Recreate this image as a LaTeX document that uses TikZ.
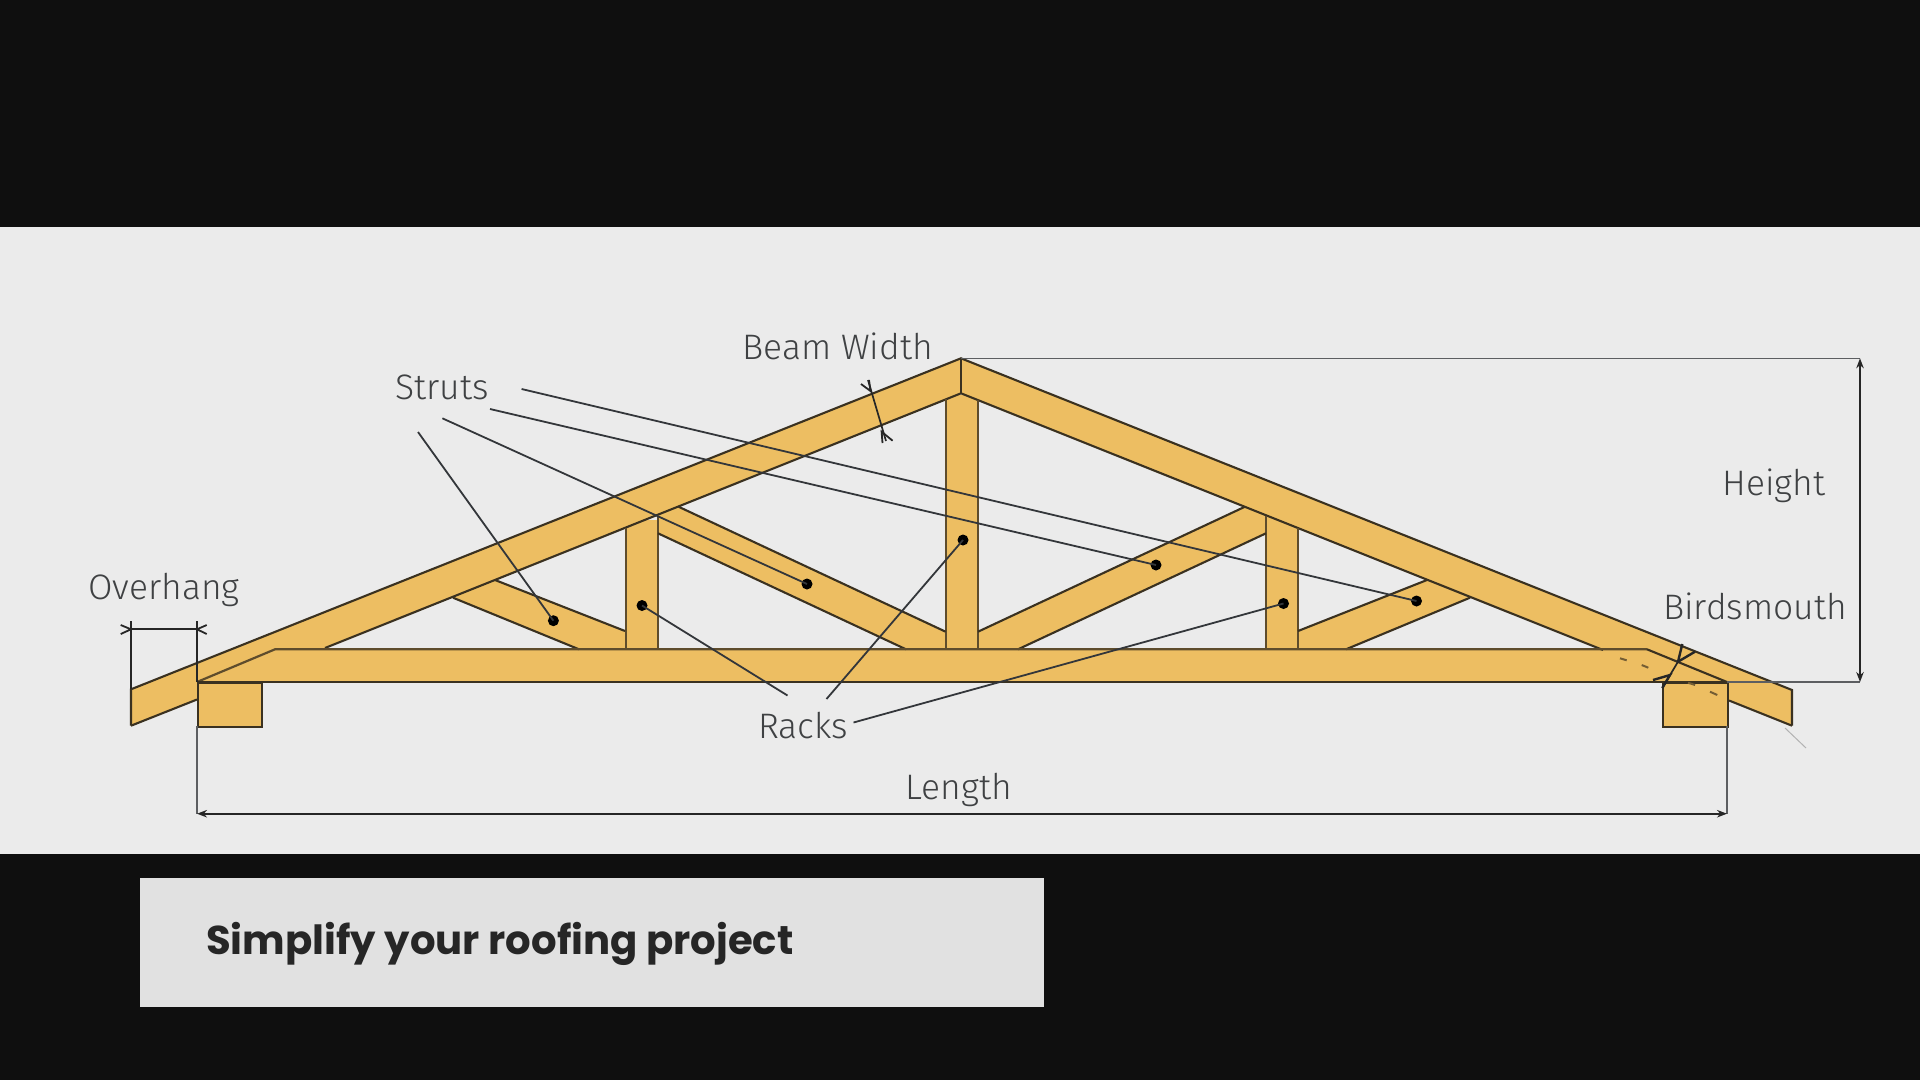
\documentclass[tikz,border=0pt]{standalone}
\usepackage{fontspec}
\usetikzlibrary{arrows.meta}
\setmainfont{Fira Sans Light}
\newfontfamily\titlefont{Poppins}
\definecolor{pageblack}{HTML}{0F0F0F}
\definecolor{panelgrey}{HTML}{EBEBEB}
\definecolor{capgrey}{HTML}{E1E1E1}
\definecolor{wood}{HTML}{EDBE62}
\definecolor{edge}{HTML}{3A3120}
\definecolor{postedge}{HTML}{5E4C2C}
\definecolor{leader}{HTML}{33363A}
\definecolor{labelgrey}{HTML}{3F4143}
\tikzset{
  woodfill/.style={fill=wood,draw=none},
  timber/.style={draw=edge,line width=2.1pt},
  posttimber/.style={draw=postedge,line width=2.2pt},
  hiddenbit/.style={draw=postedge!85!wood,line width=2pt},
  leaderline/.style={draw=leader,line width=1.8pt},
  thinline/.style={draw=leader!80!white,line width=1.2pt},
  dimline/.style={draw=black!85,line width=1.7pt},
  dimarrow/.style={draw=black!85,line width=1.7pt,{Stealth[length=10pt,width=7.5pt]}-{Stealth[length=10pt,width=7.5pt]}},
  chevron/.style={draw=black!85,line width=1.8pt},
  heavychevron/.style={draw=black!85,line width=2.4pt},
  dotmark/.style={circle,fill=black,inner sep=0pt,minimum size=11pt},
  lab/.style={font=\fontsize{35.4}{40}\selectfont,text=labelgrey,inner sep=0pt},
}
\begin{document}
\begin{tikzpicture}[x=1pt,y=-1pt]
\useasboundingbox (0,0) rectangle (1920,1080);
\fill[pageblack] (0,0) rectangle (1920,1080);
\fill[panelgrey] (0,226.5) rectangle (1920,853.5);
% caption
\node[fill=capgrey,draw=none,minimum width=904pt,minimum height=129pt,inner sep=0pt,anchor=north west] (caption) at (140,878) {};
\node[anchor=west,inner sep=0pt,font=\titlefont\bfseries\fontsize{40.2}{48}\selectfont,text=black!85] (captiontext) at (206,943.5) {Simplify your roofing project};
% named points
\coordinate (apex) at (961,358.3);
\coordinate (apexlow) at (961,393.3);
\coordinate (ltip) at (131,689.3);
\coordinate (lbot) at (131,725.7);
\coordinate (rtip) at (1792,690);
\coordinate (rbot) at (1792,725.7);
% wood fills
\fill[woodfill] (ltip) -- (apex) -- (apexlow) -- (lbot) -- cycle;
\fill[woodfill] (rtip) -- (apex) -- (apexlow) -- (rbot) -- cycle;
\fill[woodfill] (197,682) -- (275,649.3) -- (1647,649.3) -- (1727,682) -- cycle;
\fill[woodfill] (626,520) rectangle (658,650);
\fill[woodfill] (946,395) rectangle (978,650);
\fill[woodfill] (1266,510) rectangle (1298,650);
\fill[woodfill] (495,580) -- (626,631) -- (626,650) -- (579,649.3) -- (453,597.7) -- cycle;
\fill[woodfill] (658,514.5) -- (678.5,506.7) -- (946,631.7) -- (946,650) -- (906,649.3) -- (658,533.3) -- cycle;
\fill[woodfill] (1266,514.5) -- (1245,506.7) -- (978,631.7) -- (978,650) -- (1018,649.3) -- (1266,533.3) -- cycle;
\fill[woodfill] (1427,580) -- (1298,631) -- (1298,650) -- (1346,649.3) -- (1470,597.7) -- cycle;
% timber edges
\draw[timber] (lbot) -- (ltip) -- (apex) -- (rtip) -- (rbot);
\draw[timber] (apex) -- (apexlow);
\draw[timber] (lbot) -- (197,699.5);
\draw[timber] (325,648) -- (apexlow) -- (1603,650);
\draw[timber] (rbot) -- (1729,700.5);
% posts
\draw[posttimber] (626,528.3) -- (626,649.3);
\draw[posttimber] (658,516.7) -- (658,649.3);
\draw[posttimber] (946,399.3) -- (946,649.3);
\draw[posttimber] (978,400) -- (978,649.3);
\draw[posttimber] (1266,516) -- (1266,649.3);
\draw[posttimber] (1298,528) -- (1298,649.3);
% struts
\draw[timber] (495,580) -- (625,631);
\draw[timber] (453,597.7) -- (579,649.3);
\draw[timber] (678.5,506.7) -- (945.6,631.7);
\draw[timber] (658,533.3) -- (906,649.3);
\draw[timber] (1245,506.7) -- (978,631.7);
\draw[timber] (1266,533.3) -- (1018,649.3);
\draw[timber] (1427,580) -- (1298,631);
\draw[timber] (1470,597.7) -- (1346,649.3);
% chord
\draw[posttimber] (197,682) -- (275,649.3) -- (1647,649.3);
\draw[timber] (1647,649.3) -- (1727,682);
\draw[timber] (197,682) -- (1727,682);
% wall plates
\node[fill=wood,draw=edge,line width=2.1pt,inner sep=0pt,minimum width=64pt,minimum height=44pt,anchor=north west] (plateL) at (197,682) {};
\node[fill=wood,draw=edge,line width=2.1pt,inner sep=0pt,minimum width=65pt,minimum height=44pt,anchor=north west] (plateR) at (1662,682) {};
% hidden rafter edge
\draw[hiddenbit] (1620,658.3) -- (1626.7,660.3);
\draw[hiddenbit] (1641.7,665) -- (1648.3,667.7);
\draw[hiddenbit] (1688,682.7) -- (1695,685);
\draw[hiddenbit] (1710,691.7) -- (1717.3,695);
% dots
\node[dotmark] (s1) at (553.4,620.7) {};
\node[dotmark] (s2) at (807,584) {};
\node[dotmark] (s3) at (1156,565) {};
\node[dotmark] (s4) at (1416.5,601) {};
\node[dotmark] (r1) at (642,605.5) {};
\node[dotmark] (r2) at (963,540) {};
\node[dotmark] (r3) at (1283.5,603.5) {};
% labels
\node[lab] (beam) at (837.5,346.5) {Beam Width};
\node[lab] (struts) at (442,387) {Struts};
\node[lab] (overhang) at (164,590) {Overhang};
\node[lab] (height) at (1774,486) {Height};
\node[lab] (birds) at (1755,606) {Birdsmouth};
\node[lab] (length) at (959,790) {Length};
\node[lab] (racks) at (803,726) {Racks};
% leader starts
\coordinate (a1) at (418,432);
\coordinate (a2) at (442.4,418.3);
\coordinate (a3) at (490,409);
\coordinate (a4) at (521.6,389);
\coordinate (b1) at (787.5,695.5);
\coordinate (b2) at (826.5,699);
\coordinate (b3) at (853.5,722.5);
\draw[leaderline] (a1) -- (s1.center);
\draw[leaderline] (a2) -- (s2.center);
\draw[leaderline] (a3) -- (s3.center);
\draw[leaderline] (a4) -- (s4.center);
\draw[leaderline] (b1) -- (r1.center);
\draw[leaderline] (b2) -- (r2.center);
\draw[leaderline] (b3) -- (r3.center);
% height
\coordinate (hTop) at (1860,358.3);
\coordinate (hBot) at (1860,682);
\draw[thinline] (apex) -- (hTop);
\draw[thinline] (1727,682) -- (hBot);
\draw[dimarrow] (hTop) -- (hBot);
% length
\coordinate (lenL) at (197,813.7);
\coordinate (lenR) at (1727,813.7);
\draw[thinline] (197,725.7) -- (lenL);
\draw[thinline] (1727,725.7) -- (lenR);
\draw[dimarrow] (lenL) -- (lenR);
% overhang
\coordinate (ovL) at (131,629.3);
\coordinate (ovR) at (197,629.3);
\draw[dimline] (ltip) -- (131,621);
\draw[dimline] (197,682) -- (197,621);
\draw[dimline] (ovL) -- (ovR);
\draw[chevron] (120.7,625) -- (ovL) -- (120.7,634);
\draw[chevron] (206.7,625) -- (ovR) -- (206.7,634);
% beam width
\coordinate (bwA) at (868,380);
\coordinate (bwB) at (886,441);
\draw[dimline] (bwA) -- (bwB);
\draw[chevron] (861,384) -- (870.5,391) -- (869,380);
\draw[chevron] (882.5,443) -- (881.6,431.7) -- (892.6,440.7);
% birdsmouth
\coordinate (bmA) at (1682.3,644);
\coordinate (bmB) at (1662.3,688);
\draw[dimline] (1678,661.7) -- (bmB);
\draw[heavychevron] (bmA) -- (1678,661.7) -- (1695,651.7);
\draw[heavychevron] (1653,680) -- (1670,675) -- (bmB);
% faint mark
\draw[black!30,line width=1pt] (1785,728) -- (1806,748);
\end{tikzpicture}
\end{document}
